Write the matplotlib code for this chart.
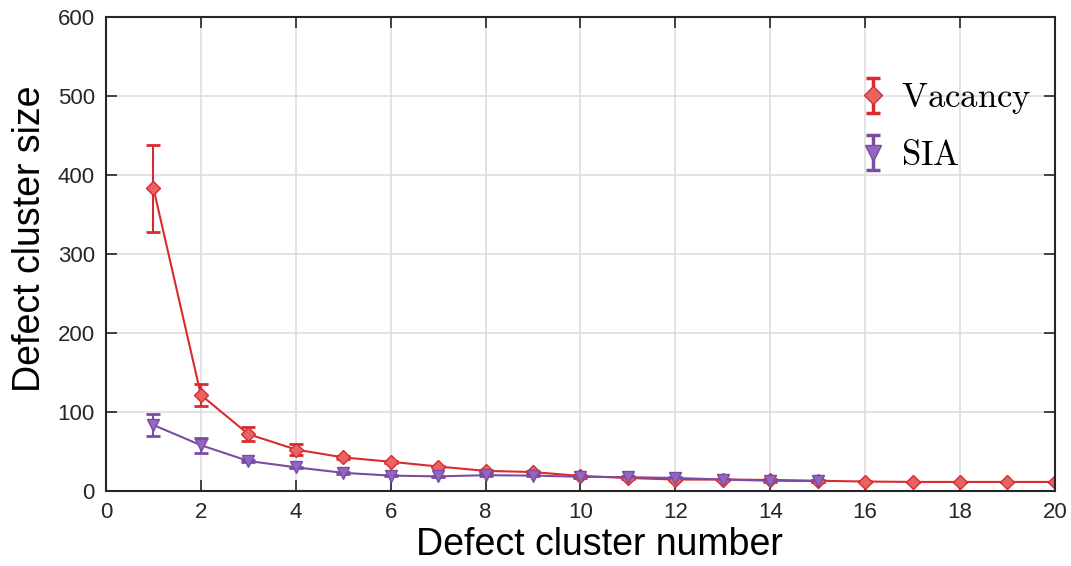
import numpy as np
import matplotlib
matplotlib.use("Agg")
import matplotlib.pyplot as plt

plt.rcParams['font.family'] = ['Liberation Sans', 'DejaVu Sans']
plt.rcParams['mathtext.fontset'] = 'cm'

# data
vac_x = [1, 2, 3, 4, 5, 6, 7, 8, 9, 10, 11, 12, 13, 14, 15, 16, 17, 18, 19, 20]
vac_y = [383, 121.5, 72, 52.5, 42.5, 37, 31, 25.5, 24, 19, 16.5, 14.5, 14.5, 14, 13, 12, 11.5, 11.5, 11.5, 11.5]
vac_err = [55.5, 13.5, 9, 7, 2, 1.5, 1, 1, 1, 1, 1, 1, 1, 1, 1, 0.5, 0.5, 0.5, 0.5, 0.5]

sia_x = [1, 2, 3, 4, 5, 6, 7, 8, 9, 10, 11, 12, 13, 14, 15]
sia_y = [83.5, 58, 38, 30, 23, 19.5, 18.5, 20, 19.5, 18, 17.5, 16.5, 14.5, 13, 12.5]
sia_err = [14.5, 9.5, 1.5, 1, 1, 1, 1, 1, 1, 1, 1, 1, 1, 1, 1]

red = '#d92b2f'
purple = '#7a4da3'

fig = plt.figure(figsize=(10.71, 5.66), dpi=100)
ax = fig.add_axes([0.099, 0.1325, 0.886, 0.8375])

ax.errorbar(vac_x, vac_y, yerr=vac_err, color=red, marker='D', markersize=7,
            markerfacecolor='#e86464', markeredgecolor=red, lw=1.5,
            capsize=5, capthick=2, elinewidth=1.5)
ax.errorbar(sia_x, sia_y, yerr=sia_err, color=purple, marker='v', markersize=9,
            markerfacecolor='#9466c4', markeredgecolor=purple, lw=1.5,
            capsize=5, capthick=2, elinewidth=1.5)

# legend proxies: marker + error bar, no connecting line
h1 = ax.errorbar([np.nan], [np.nan], yerr=[1], color=red, marker='D', markersize=9,
                 markerfacecolor='#e86464', markeredgecolor=red, ls='none',
                 capsize=5, capthick=2.5, elinewidth=2.5, label=r'$\mathrm{Vacancy}$')
h2 = ax.errorbar([np.nan], [np.nan], yerr=[1], color=purple, marker='v', markersize=11,
                 markerfacecolor='#9466c4', markeredgecolor=purple, ls='none',
                 capsize=5, capthick=2.5, elinewidth=2.5, label=r'$\mathrm{SIA}$')

ax.set_xlim(0, 20)
ax.set_ylim(0, 600)
ax.set_xticks(np.arange(0, 21, 2))
ax.set_yticks(np.arange(0, 601, 100))
ax.grid(True, color='#dedede', lw=1.2)
ax.set_axisbelow(True)
ax.tick_params(direction='in', top=True, right=True, length=8, width=1.2,
               labelsize=16, colors='#262626', pad=8)
for s in ax.spines.values():
    s.set_linewidth(1.5)
    s.set_color('#262626')

ax.set_xlabel('Defect cluster number', fontsize=27)
ax.set_ylabel('Defect cluster size', fontsize=27)
ax.xaxis.set_label_coords(0.5195, -0.075)
ax.yaxis.set_label_coords(-0.061, 0.532)

ax.legend(handles=[h1, h2], loc='upper right', bbox_to_anchor=(1.008, 0.93), frameon=False,
          fontsize=25, handlelength=0.6, handletextpad=0.5, labelspacing=0.65)

fig.savefig('out.png', dpi=100)
